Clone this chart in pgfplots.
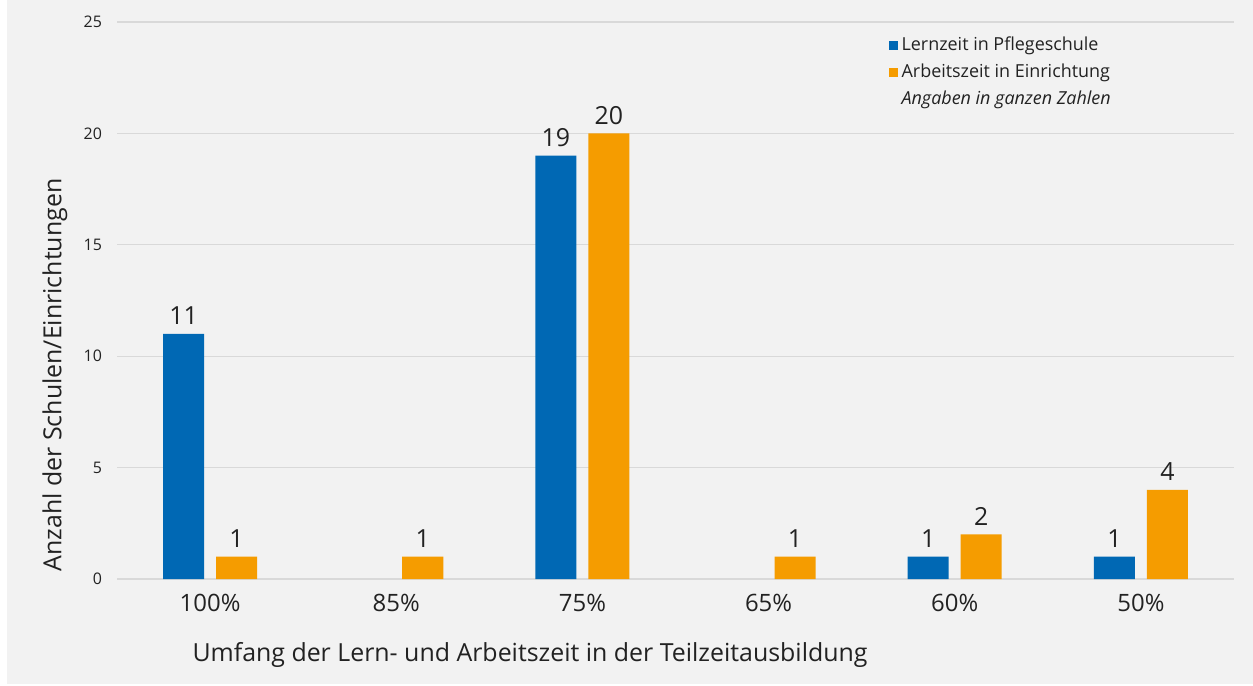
\documentclass[border=0pt]{standalone}
\usepackage{pgfplots}
\pgfplotsset{compat=1.18}
\usepackage{fontspec}
\setmainfont{Open Sans}
\definecolor{bgray}{HTML}{F2F2F2}
\definecolor{gridgray}{HTML}{D9D9D9}
\definecolor{lblue}{HTML}{0068B4}
\definecolor{aorange}{HTML}{F59C00}
\definecolor{txt}{HTML}{222222}
\begin{document}
\begin{tikzpicture}
% background: 1 px = 0.5bp, axis origin at px (117,579)
\fill[white] (-58.5bp,-53.5bp) rectangle (568bp,289.5bp);
\fill[bgray] (-55bp,-52.5bp) rectangle (568bp,289.5bp);
\begin{axis}[
    at={(0,0)}, anchor=south west,
    scale only axis,
    width=558.5bp, height=278.5bp,
    xmin=-0.5, xmax=5.5,
    ymin=0, ymax=25,
    ytick={0,5,10,15,20,25},
    xtick={0,1,2,3,4,5},
    xticklabels={100\%,85\%,75\%,65\%,60\%,50\%},
    ymajorgrids,
    grid style={gridgray, line width=0.6bp},
    axis line style={draw=none},
    major tick length=0pt,
    tick label style={color=txt},
    /pgf/number format/assume math mode=true,
    yticklabel style={font=\fontsize{8}{9}\selectfont, xshift=-4bp},
    xticklabel style={font=\fontsize{12}{14}\selectfont, yshift=-4bp},
    clip=false,
    legend style={draw=none, fill=none, at={(386bp,273bp)}, anchor=north west,
        font=\fontsize{9}{10}\selectfont, text=txt, row sep=1.2bp,
        inner sep=0pt, outer sep=0pt,
        /tikz/every even column/.style={column sep=2.5bp}},
    legend cell align=left,
    legend image code/.code={\fill[#1] (0bp,-2.3bp) rectangle (4.3bp,2.3bp);},
    nodes near coords,
    every node near coord/.append style={font=\fontsize{12.5}{14}\selectfont, color=txt, yshift=1bp},
]
\addplot[ybar, bar width=20.5bp, bar shift=-13.25bp, fill=lblue, draw=none,
    every node near coord/.append style={xshift=-13.25bp}]
    coordinates {(0,11) (2,19) (4,1) (5,1)};
\addlegendentry{Lernzeit in Pflegeschule}
\addplot[ybar, bar width=20.5bp, bar shift=13.25bp, fill=aorange, draw=none,
    every node near coord/.append style={xshift=13.25bp}]
    coordinates {(0,1) (1,1) (2,20) (3,1) (4,2) (5,4)};
\addlegendentry{Arbeitszeit in Einrichtung}
\addlegendimage{empty legend}
\addlegendentry{\itshape Angaben in ganzen Zahlen}
\end{axis}
\node[font=\fontsize{12.5}{14}\selectfont, text=txt] at (206.5bp,-38bp)
    {Umfang der Lern- und Arbeitszeit in der Teilzeitausbildung};
\node[font=\fontsize{12.5}{14}\selectfont, text=txt, rotate=90] at (-31bp,102bp)
    {Anzahl der Schulen/Einrichtungen};
\end{tikzpicture}
\end{document}
